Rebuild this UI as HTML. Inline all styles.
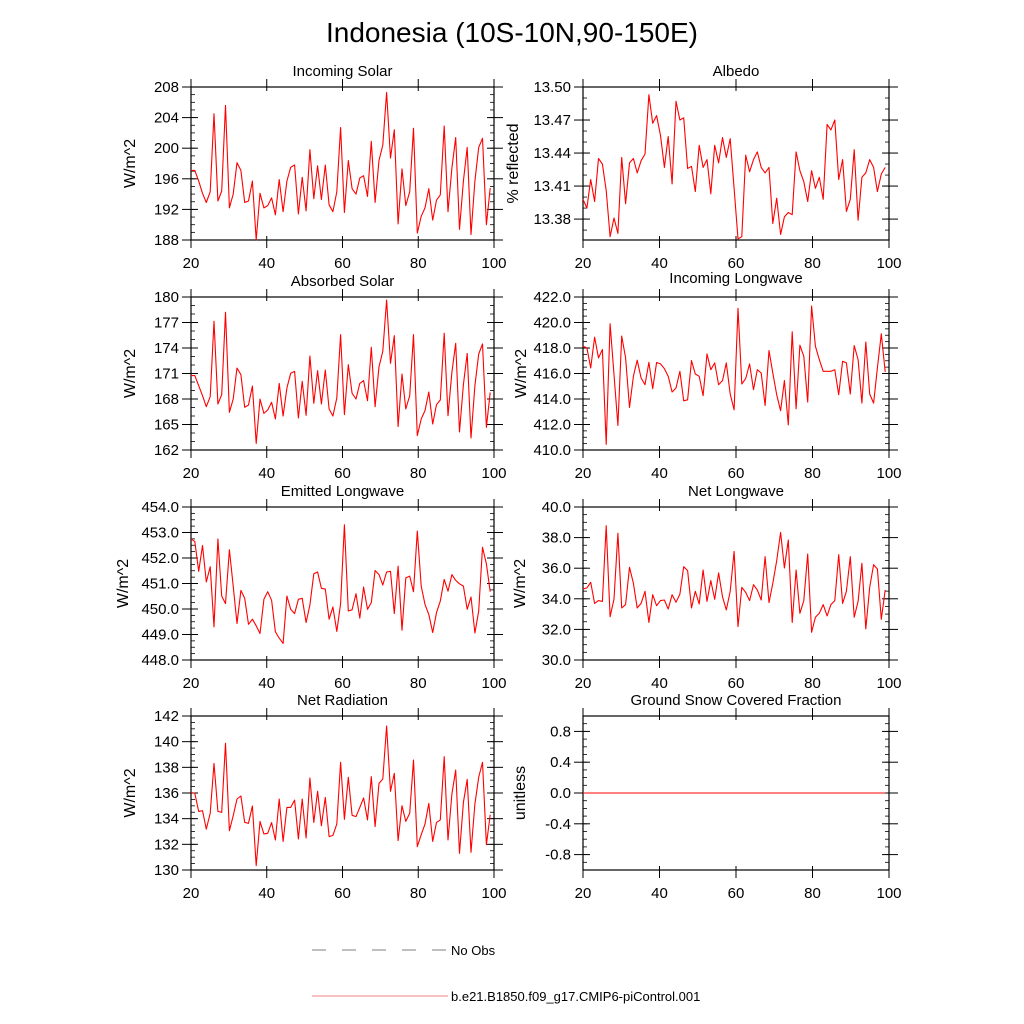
<!DOCTYPE html>
<html><head><meta charset="utf-8"><style>
html,body{margin:0;padding:0;background:#fff;}
svg{display:block;font-family:"Liberation Sans",sans-serif;}
</style></head><body>
<svg id="chart" width="1024" height="1024" viewBox="0 0 1024 1024" xmlns="http://www.w3.org/2000/svg">
<rect x="0" y="0" width="1024" height="1024" fill="#fff"/>
<text x="512" y="42" font-size="28" text-anchor="middle">Indonesia (10S-10N,90-150E)</text>
<g id="panels"></g>
<g>
<line x1="312" y1="950" x2="448" y2="950" stroke="#555" stroke-width="0.8" stroke-dasharray="14,16"/>
<text x="451" y="955" font-size="13">No Obs</text>
<line x1="312" y1="996" x2="448" y2="996" stroke="#f08080" stroke-width="1"/>
<text x="451" y="1001" font-size="13">b.e21.B1850.f09_g17.CMIP6-piControl.001</text>
</g>
</svg>
<script>
const xTicks = [20, 40, 60, 80, 100];
const incomingSolar = [197.1,197.1,195.7,194.1,192.9,194.3,204.5,193.1,194.4,205.6,192.2,194.0,198.1,197.1,192.9,193.1,195.7,188.0,194.1,192.2,192.5,193.5,191.3,195.9,191.7,195.7,197.5,197.8,191.4,196.2,191.8,199.8,193.4,197.7,193.3,197.8,192.6,191.7,194.3,202.7,191.6,198.4,194.7,194.0,196.1,196.4,193.7,200.9,192.9,198.4,200.4,207.3,198.7,202.4,190.1,197.3,192.5,194.3,202.6,188.9,191.1,192.2,194.7,190.6,193.2,193.9,202.9,191.7,197.4,201.4,189.4,195.7,200.1,188.7,195.7,200.1,201.3,190.0,194.8];
const albedo = [13.398,13.390,13.416,13.396,13.435,13.430,13.406,13.364,13.381,13.367,13.436,13.394,13.431,13.435,13.422,13.433,13.439,13.493,13.467,13.474,13.456,13.427,13.455,13.412,13.487,13.470,13.472,13.426,13.428,13.405,13.447,13.427,13.434,13.403,13.447,13.431,13.454,13.436,13.453,13.408,13.362,13.364,13.438,13.423,13.434,13.441,13.427,13.422,13.427,13.376,13.399,13.366,13.382,13.386,13.384,13.441,13.424,13.414,13.396,13.424,13.408,13.418,13.398,13.466,13.461,13.470,13.416,13.434,13.387,13.398,13.443,13.379,13.418,13.422,13.434,13.427,13.405,13.421,13.427];
const absorbedSolar = [170.75,170.75,169.57,168.39,167.10,168.27,177.14,167.41,168.51,178.20,166.43,168.00,171.65,170.86,167.02,167.29,169.53,162.78,168.00,166.31,166.71,167.61,165.65,169.84,166.00,169.29,171.02,171.25,165.76,170.08,166.08,173.06,167.49,171.33,167.41,171.41,166.82,166.00,168.12,175.57,166.16,172.04,168.67,168.00,169.84,170.16,167.80,174.08,167.10,171.80,173.61,179.65,172.20,175.45,164.75,170.94,166.82,168.39,175.57,163.69,165.65,166.63,168.82,165.06,167.33,167.88,175.73,166.04,171.14,174.55,164.12,169.69,173.37,163.41,169.57,173.29,174.47,164.67,168.78];
const incomingLongwave = [418.14,418.01,416.44,418.85,417.22,417.88,410.45,419.90,415.91,411.92,418.93,417.22,413.34,415.78,417.04,415.65,415.12,416.88,414.81,416.86,416.75,416.38,415.78,414.55,414.86,416.17,413.86,413.94,417.01,415.96,415.78,414.26,417.54,416.30,416.83,415.12,415.44,416.83,414.39,413.15,421.11,415.18,415.60,416.75,414.73,416.30,416.04,413.50,417.80,416.04,414.34,413.08,415.44,411.97,419.27,413.23,418.22,417.35,413.76,421.29,418.14,417.09,416.17,416.17,416.17,416.30,414.34,416.96,416.83,414.39,418.19,417.09,413.68,418.46,414.39,413.68,416.44,419.11,416.12];
const emittedLongwave = [452.75,452.65,451.48,452.49,451.06,451.66,449.30,452.75,450.51,450.21,452.32,450.90,449.43,450.73,450.42,449.40,449.60,449.34,449.04,450.38,450.68,450.34,449.10,448.86,448.65,450.51,449.99,449.82,450.38,450.42,449.47,450.16,451.38,451.45,450.81,450.78,449.60,450.08,449.12,450.21,453.30,449.92,449.97,450.60,449.64,450.86,449.99,450.25,451.51,451.35,450.94,451.45,451.48,449.82,451.68,449.17,451.22,451.29,450.68,453.06,450.90,450.18,449.79,449.08,449.86,450.31,451.16,450.70,451.35,451.12,450.99,450.90,449.99,450.47,449.06,449.92,452.42,451.77,450.68];
const netLongwave = [34.64,34.71,35.08,33.70,33.88,33.83,38.78,32.83,33.99,38.28,33.40,33.62,36.06,35.01,33.40,33.70,34.49,32.46,34.27,33.55,33.88,33.92,33.33,34.27,33.77,34.31,36.10,35.84,33.40,34.49,33.66,35.88,33.83,35.19,33.97,35.69,34.14,33.27,34.49,37.10,32.18,34.75,34.42,33.88,34.92,34.58,33.92,36.75,33.75,35.01,36.49,38.34,36.01,37.84,32.46,35.88,33.05,33.88,36.93,31.81,32.79,33.05,33.62,32.88,33.62,33.88,36.88,33.70,34.49,36.75,32.79,33.83,36.32,32.03,34.75,36.23,35.95,32.66,34.58];
const netRadiation = [136.05,135.97,134.57,134.62,133.19,134.42,138.31,134.57,134.49,139.87,133.06,134.23,135.53,135.77,133.71,133.64,134.99,130.34,133.79,132.81,132.86,133.69,132.34,135.53,132.23,134.88,134.88,135.45,132.42,135.53,132.49,137.17,133.71,136.13,133.45,135.66,132.60,132.70,133.58,138.39,133.95,137.22,134.26,134.16,134.88,135.61,133.90,137.27,133.38,136.75,137.09,141.22,136.13,137.53,132.29,135.01,133.79,134.42,138.57,131.82,132.75,133.58,135.19,132.23,133.71,133.90,138.83,132.34,135.92,137.79,131.30,135.27,137.06,131.38,135.14,137.22,138.39,131.97,134.31];
const snowFraction = [0,0,0,0,0,0,0,0,0,0,0,0,0,0,0,0,0,0,0,0,0,0,0,0,0,0,0,0,0,0,0,0,0,0,0,0,0,0,0,0,0,0,0,0,0,0,0,0,0,0,0,0,0,0,0,0,0,0,0,0,0,0,0,0,0,0,0,0,0,0,0,0,0,0,0,0,0,0,0];
const tickSolar = [188,192,196,200,204,208];
const tickAlbedo = [13.38,13.41,13.44,13.47,13.50];
const tickAbsorbed = [162,165,168,171,174,177,180];
const tickInLW = [410,412,414,416,418,420,422];
const tickEmit = [448,449,450,451,452,453,454];
const tickNetLW = [30,32,34,36,38,40];
const tickNetRad = [130,132,134,136,138,140,142];
const tickSnow = [-0.8,-0.4,0.0,0.4,0.8];

const NS = "http://www.w3.org/2000/svg";
const root = document.getElementById("panels");
function mk(tag, attrs, parent) {
  const e = document.createElementNS(NS, tag);
  for (const k in attrs) e.setAttribute(k, attrs[k]);
  (parent || root).appendChild(e);
  return e;
}
const cols = [[191, 494], [583, 889]];
const rows = [[87, 240], [297, 450], [507, 660], [716, 870]];
const panels = [
  {key:"incoming-solar", title:"Incoming Solar", data:incomingSolar, ticks:tickSolar, min:188, max:208, minor:1, dec:0, yl:"W/m^2", c:0, r:0, yx:129},
  {key:"albedo", title:"Albedo", data:albedo, ticks:tickAlbedo, min:13.361, max:13.50, minor:0.01, dec:2, yl:"% reflected", c:1, r:0, yx:512},
  {key:"absorbed-solar", title:"Absorbed Solar", data:absorbedSolar, ticks:tickAbsorbed, min:162, max:180, minor:1, dec:0, yl:"W/m^2", c:0, r:1, yx:129},
  {key:"incoming-longwave", title:"Incoming Longwave", data:incomingLongwave, ticks:tickInLW, min:410, max:422, minor:0.5, dec:1, yl:"W/m^2", c:1, r:1, tdy:-3, yx:520},
  {key:"emitted-longwave", title:"Emitted Longwave", data:emittedLongwave, ticks:tickEmit, min:448, max:454, minor:0.25, dec:1, yl:"W/m^2", c:0, r:2, yx:122},
  {key:"net-longwave", title:"Net Longwave", data:netLongwave, ticks:tickNetLW, min:30, max:40, minor:0.5, dec:1, yl:"W/m^2", c:1, r:2, yx:519},
  {key:"net-radiation", title:"Net Radiation", data:netRadiation, ticks:tickNetRad, min:130, max:142, minor:0.5, dec:0, yl:"W/m^2", c:0, r:3, yx:129},
  {key:"snow-fraction", title:"Ground Snow Covered Fraction", data:snowFraction, ticks:tickSnow, min:-1, max:1, minor:0.1, dec:1, yl:"unitless", c:1, r:3, yx:519}
];
panels.forEach(p => {
  const [x0, x1] = cols[p.c], [y0, y1] = rows[p.r];
  const g = mk("g", {});
  
  
  const xs = v => x0 + (v - 20) / 80 * (x1 - x0);
  const ys = v => y1 - (v - p.min) / (p.max - p.min) * (y1 - y0);
  const start = Math.ceil(p.min / p.minor - 1e-6);
  for (let k = start; k * p.minor <= p.max + 1e-9; k++) {
    const y = ys(k * p.minor);
    mk("line", {x1:x0, y1:y, x2:x0+4, y2:y, stroke:"#000", "stroke-width":0.8}, g);
    mk("line", {x1:x1, y1:y, x2:x1-4, y2:y, stroke:"#000", "stroke-width":0.8}, g);
  }
  p.ticks.forEach(t => {
    const y = ys(t);
    mk("line", {x1:x0-9, y1:y, x2:x0+7, y2:y, stroke:"#000", "stroke-width":1}, g);
    mk("line", {x1:x1+9, y1:y, x2:x1-7, y2:y, stroke:"#000", "stroke-width":1}, g);
    const tl = mk("text", {x:x0-12, y:y+5, "font-size":15, "text-anchor":"end"}, g);
    
    
    tl.textContent = t.toFixed(p.dec);
  });
  xTicks.forEach(t => {
    const x = xs(t);
    mk("line", {x1:x, y1:y1+8, x2:x, y2:y1-4, stroke:"#000", "stroke-width":1}, g);
    mk("line", {x1:x, y1:y0-8, x2:x, y2:y0+4, stroke:"#000", "stroke-width":1}, g);
    const tl = mk("text", {x:x, y:y1+28, "font-size":15, "text-anchor":"middle"}, g);
    
    
    tl.textContent = t;
  });
  const fr = mk("rect", {x:x0, y:y0, width:x1-x0, height:y1-y0, fill:"none", stroke:"#000", "stroke-width":1.2}, g);
  
  
  const n = p.data.length;
  const pts = p.data.map((v, i) => xs(20 + i * 79 / (n - 1)).toFixed(1) + "," + ys(v).toFixed(1)).join(" ");
  const ln = mk("polyline", {points:pts, fill:"none", stroke:"#ff0000", "stroke-width":1.1, "stroke-linejoin":"round"}, g);
  
  
  const ti = mk("text", {x:(x0+x1)/2, y:y0-11+(p.tdy||0), "font-size":15, "text-anchor":"middle"}, g);
  
  
  ti.textContent = p.title;
  const yc = (y0 + y1) / 2, xl = p.yx + 6;
  const yt = mk("text", {x:xl, y:yc, "font-size":16, "text-anchor":"middle", transform:"rotate(-90 " + xl + " " + yc + ")"}, g);
  
  
  yt.textContent = p.yl;
});
</script>
</body></html>
